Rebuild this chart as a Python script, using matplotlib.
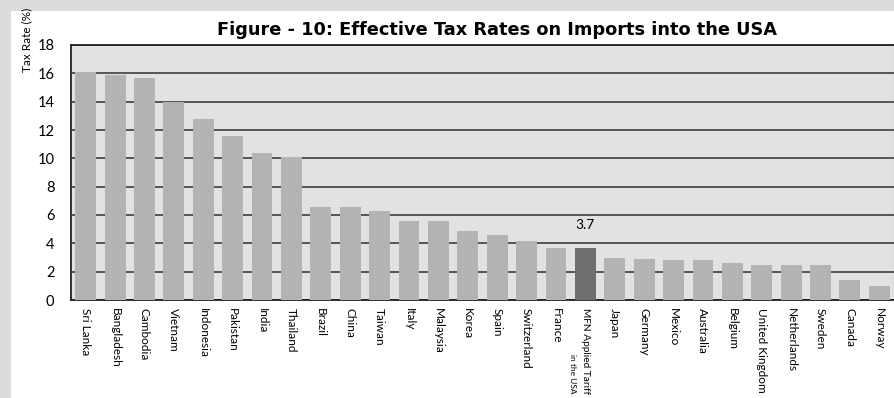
import matplotlib.pyplot as plt
from matplotlib.patches import Rectangle

# Data
countries = [
    "Sri Lanka", "Bangladesh", "Cambodia", "Vietnam", "Indonesia", "Pakistan",
    "India", "Thailand", "Brazil", "China", "Taiwan", "Italy", "Malaysia",
    "Korea", "Spain", "Switzerland", "France", "MFN Applied Tariff", "Japan",
    "Germany", "Mexico", "Australia", "Belgium", "United Kingdom",
    "Netherlands", "Sweden", "Canada", "Norway",
]
tax_rates = [
    16.1, 15.9, 15.7, 14.0, 12.8, 11.6, 10.4, 10.1, 6.6, 6.6, 6.3, 5.6, 5.6,
    4.9, 4.6, 4.2, 3.7, 3.7, 3.0, 2.9, 2.8, 2.8, 2.6, 2.5, 2.5, 2.5, 1.4, 1.0,
]
mfn_index = 17
mfn_subtitle = "in the USA"

plt.rcParams["font.family"] = ["Lato", "DejaVu Sans"]

fig = plt.figure(figsize=(8.95, 3.98), dpi=100)
fig.patch.set_facecolor("#dcdcdc")
# white panel inside the gray frame
panel = Rectangle((11 / 895, 0), 1, 1 - 11 / 398, transform=fig.transFigure,
                  facecolor="white", edgecolor="none", zorder=-10)
fig.add_artist(panel)

ax = fig.add_axes([71 / 895, 1 - 300 / 398, 823 / 895, 255 / 398])
ax.set_facecolor("#e2e2e4")

colors = ["#b3b3b3"] * len(countries)
colors[mfn_index] = "#6f6f6f"
x = list(range(len(countries)))
ax.bar(x, tax_rates, width=0.71, color=colors, zorder=3)

ax.set_xlim(-0.5, len(countries) - 0.5)
ax.set_ylim(0, 18)
ax.set_yticks(range(0, 19, 2))
ax.set_yticklabels([str(v) for v in range(0, 19, 2)], fontsize=10.5)
ax.tick_params(axis="y", length=0, pad=12)
ax.tick_params(axis="x", length=0, pad=6)
ax.set_xticks(x)
ax.set_xticklabels(countries, rotation=270, fontsize=8.5, va="top", ha="center")
ax.get_xticklabels()[mfn_index].set_fontsize(7.3)
ax.yaxis.grid(True, color="#4a4a4a", linewidth=1.3, zorder=1)
ax.set_axisbelow(True)

for side in ["left", "bottom", "top"]:
    ax.spines[side].set_color("#222222")
    ax.spines[side].set_linewidth(1.3)
ax.spines["right"].set_color("#9a9a9a")

# value label on the MFN bar
ax.text(mfn_index, tax_rates[mfn_index] + 1.2, f"{tax_rates[mfn_index]:.1f}",
        ha="center", va="bottom", fontsize=10)
# second line of the MFN label, smaller
ax.text(mfn_index - 0.44, -0.365, mfn_subtitle, transform=ax.get_xaxis_transform(),
        rotation=270, ha="center", va="bottom", fontsize=6)

fig.text(27 / 895, 1 - 40 / 398, "Tax Rate (%)", rotation=90, ha="center",
         va="center", fontsize=8.5)
fig.text(497 / 895, 1 - 30 / 398,
         "Figure - 10: Effective Tax Rates on Imports into the USA",
         ha="center", va="center", fontsize=12.8, fontweight="bold",
         family="DejaVu Sans")

fig.savefig("out.png", dpi=100, facecolor=fig.get_facecolor())
